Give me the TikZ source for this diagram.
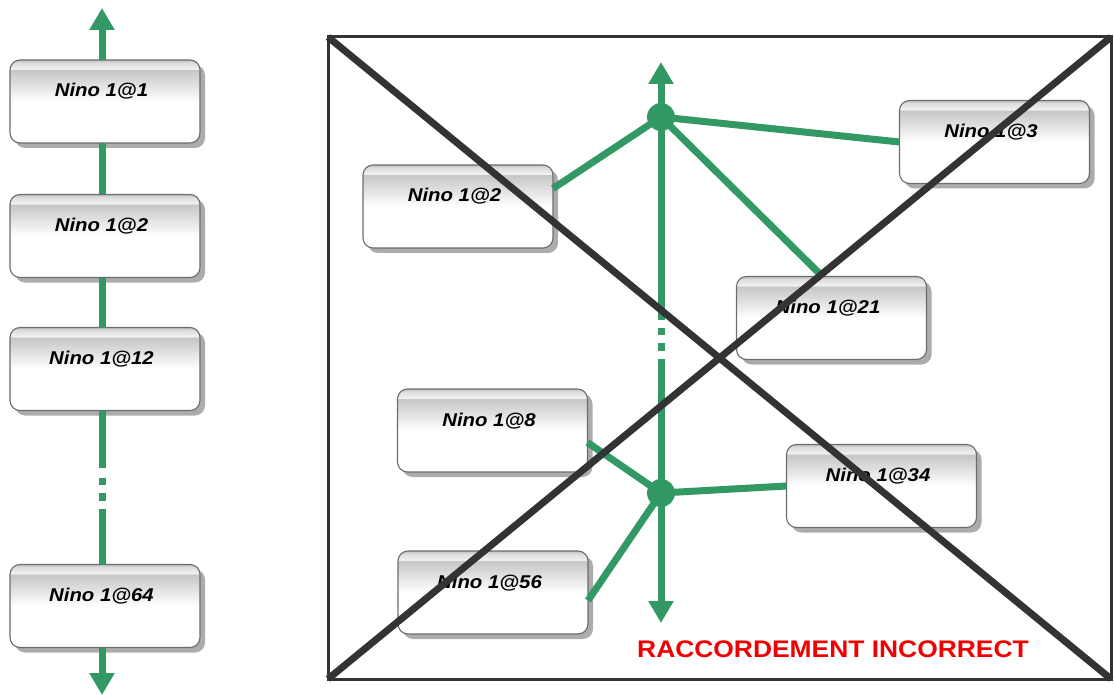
\documentclass[tikz,border=0pt]{standalone}
\usepackage{fontspec}
\usetikzlibrary{arrows.meta,shadows}
\newfontfamily\lblfont[FakeStretch=1.1]{Liberation Sans}
\definecolor{gr}{RGB}{50,152,100}
\definecolor{dk}{RGB}{51,51,51}
\definecolor{rd}{RGB}{240,0,0}
\pgfdeclareverticalshading{boxshade}{100bp}{color(0bp)=(white); color(25bp)=(white); color(50bp)=(white); color(69bp)=(gray!45); color(69.5bp)=(gray!10); color(73.5bp)=(gray!28); color(75bp)=(gray!50); color(100bp)=(gray!50)}
\tikzset{
  nbox/.style={draw=gray!85!black, line width=1.1pt, rounded corners=10pt,
    shading=boxshade, minimum width=190pt, inner sep=0pt, outer sep=0pt,
    text height=37pt, text depth=46pt,
    font=\lblfont\bfseries\itshape\fontsize{18.5}{20}\selectfont,
    execute at end node={\hspace*{7pt}},
    drop shadow={shadow xshift=5pt, shadow yshift=-5pt, fill=gray!65, opacity=1}},
  gline/.style={draw=gr, line width=7pt},
  garrow/.style={gline, -{Triangle[width=24pt,length=22pt]}},
  gdot/.style={circle, fill=gr, minimum size=28pt, inner sep=0pt},
  dline/.style={draw=dk, line width=7pt},
}
\begin{document}
\begin{tikzpicture}[x=1pt,y=-1pt]
\useasboundingbox (0,0) rectangle (1114,695);
% left column
\node[nbox] (L1) at (105,101.5) {Nino 1@1};
\node[nbox] (L2) at (105,236) {Nino 1@2};
\node[nbox] (L12) at (105,369) {Nino 1@12};
\node[nbox] (L64) at (105,606) {Nino 1@64};
\coordinate (Ltop) at (102,8);
\coordinate (Lbot) at (102,695);
\draw[garrow] ([xshift=-3pt]L1.north) -- (Ltop);
\draw[gline] ([xshift=-3pt]L1.south) -- ([xshift=-3pt]L2.north);
\draw[gline] ([xshift=-3pt]L2.south) -- ([xshift=-3pt]L12.north);
\draw[gline, dash pattern=on 57pt off 10pt on 7pt off 8pt on 8pt off 8pt on 200pt] ([xshift=-3pt]L12.south) -- ([xshift=-3pt]L64.north);
\draw[garrow] ([xshift=-3pt]L64.south) -- (Lbot);
% right panel boxes
\node[nbox] (R2) at (458,206.5) {Nino 1@2};
\node[nbox] (R3) at (994.5,142) {Nino 1@3};
\node[nbox] (R21) at (831.5,318) {Nino 1@21};
\node[nbox] (R8) at (492.5,430.5) {Nino 1@8};
\node[nbox] (R56) at (493,592.5) {Nino 1@56};
\node[nbox] (R34) at (881.5,486) {Nino 1@34};
% green bus
\node[gdot] (dT) at (661,117) {};
\node[gdot] (dB) at (661,493) {};
\coordinate (Rtop) at (661,62);
\coordinate (Rbot) at (661,623);
\draw[garrow] (dT.center) -- (Rtop);
\draw[garrow] (dB.center) -- (Rbot);
\draw[gline, dash pattern=on 203pt off 8pt on 7pt off 8pt on 8pt off 8pt on 200pt] (dT.center) -- (dB.center);
\draw[gline] ([yshift=18pt]R2.east) -- (dT.center);
\draw[gline] (dT.center) -- (R3.west);
\draw[gline] (dT.center) -- ([xshift=-9pt]R21.north);
\draw[gline] ([yshift=-12pt]R8.east) -- (dB.center);
\draw[gline] ([yshift=-8pt]R56.east) -- (dB.center);
\draw[gline] (dB.center) -- (R34.west);
% red text
\node[anchor=base west, text=rd, inner sep=0pt, font=\lblfont\bfseries\fontsize{24}{26}\selectfont] (msg) at (637,657) {RACCORDEMENT INCORRECT};
% frame and cross
\node[draw=dk, line width=3pt, minimum width=783pt, minimum height=642pt, inner sep=0pt, outer sep=0pt] (frame) at (719.5,358) {};
\draw[dline] (frame.north west) -- (frame.south east);
\draw[dline] (frame.south west) -- (frame.north east);
\end{tikzpicture}
\end{document}
